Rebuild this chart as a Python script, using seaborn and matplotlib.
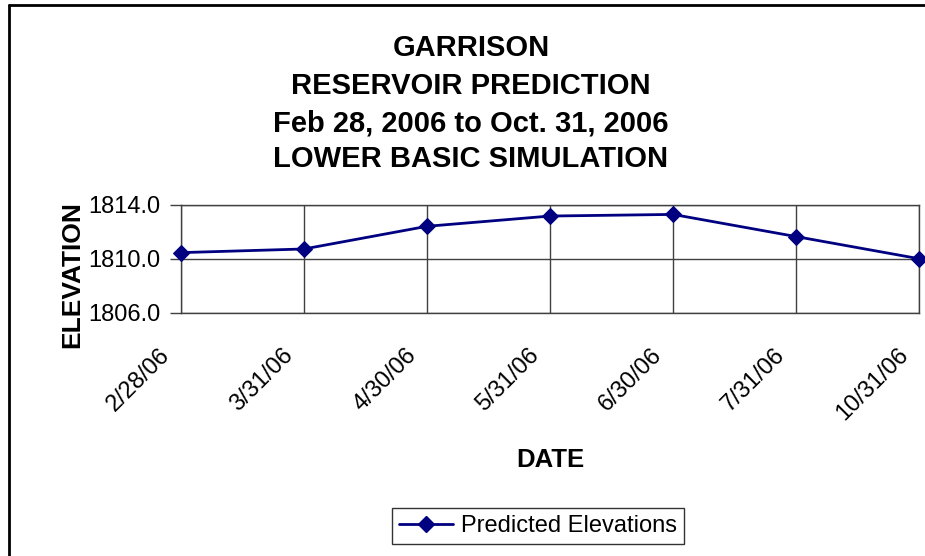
import pandas as pd
import matplotlib
matplotlib.use("Agg")
import matplotlib.pyplot as plt
import matplotlib.transforms as mtransforms
from matplotlib.lines import Line2D
import seaborn as sns

# ------------------------------
# Data
# ------------------------------
dates = ["2/28/06", "3/31/06", "4/30/06", "5/31/06", "6/30/06", "7/31/06", "10/31/06"]
elevations = [1810.45, 1810.72, 1812.40, 1813.16, 1813.28, 1811.64, 1810.00]
y_ticks = [1806.0, 1810.0, 1814.0]
title_lines = ["GARRISON", "RESERVOIR PREDICTION",
               "Feb 28, 2006 to Oct. 31, 2006", "LOWER BASIC SIMULATION"]

df = pd.DataFrame({"date": dates, "elevation": elevations})
df["pos"] = range(len(df))

sns.set_style("white")
plt.rcParams["font.family"] = ["Liberation Sans", "DejaVu Sans"]
plt.rcParams["text.color"] = "black"
plt.rcParams["xtick.color"] = "black"
plt.rcParams["ytick.color"] = "black"

W, H = 925, 556
fig = plt.figure(figsize=(W / 100, H / 100), dpi=100)

# axes placed in pixel terms of the reference
x0, x1, y_top, y_bot = 181, 919, 204.7, 312.7
ax = fig.add_axes([x0 / W, 1 - y_bot / H, (x1 - x0) / W, (y_bot - y_top) / H])

navy = "#000080"
sns.lineplot(data=df, x="pos", y="elevation", ax=ax, color=navy, linewidth=2,
             marker="D", markersize=8, markeredgecolor=navy, legend=False,
             clip_on=False, zorder=5)

ax.set_xlim(0, len(dates) - 1)
ax.set_ylim(1806, 1814)
ax.set_yticks(y_ticks)
ax.set_yticklabels([f"{v:.1f}" for v in y_ticks], fontsize=17)
ax.set_xticks(df["pos"])
ax.set_xticklabels(dates, fontsize=17, rotation=45, ha="right",
                   rotation_mode="anchor", va="top")
ax.tick_params(axis="y", length=8, width=1, color="#404040", pad=7, left=True)
ax.tick_params(axis="x", length=0, pad=0)
offset = mtransforms.ScaledTranslation(-22 / 100, -31 / 100, fig.dpi_scale_trans)
for lab in ax.get_xticklabels():
    lab.set_transform(lab.get_transform() + offset)

ax.grid(True, color="#404040", linewidth=1)
for s in ax.spines.values():
    s.set_visible(True)
    s.set_color("#404040")
    s.set_linewidth(1)
ax.set_xlabel("")
ax.set_ylabel("")

# axis titles
fig.text(72 / W, 1 - 275 / H, "ELEVATION", rotation=90, fontsize=19,
         fontweight="bold", ha="center", va="center")
fig.text(550 / W, 1 - 460 / H, "DATE", fontsize=18.5, fontweight="bold",
         ha="center", va="center")

# chart title
for line, yc in zip(title_lines, [48, 85.5, 123, 159]):
    fig.text(471 / W, 1 - yc / H, line, fontsize=21, fontweight="bold",
             ha="center", va="center")

# legend
handle = Line2D([], [], color=navy, linewidth=2, marker="D", markersize=8)
leg = fig.legend([handle], ["Predicted Elevations"], loc="center",
                 bbox_to_anchor=(538 / W, 1 - 526 / H), fontsize=17,
                 frameon=True, fancybox=False, edgecolor="black",
                 handlelength=2.3, handletextpad=0.35, borderpad=0.3,
                 borderaxespad=0)
leg.get_frame().set_linewidth(1)

# outer chart border (left and top visible in the reference)
fig.add_artist(Line2D([8.5 / W, 8.5 / W], [0, 1 - 4.5 / H], color="black",
                      linewidth=2, transform=fig.transFigure))
fig.add_artist(Line2D([8.5 / W, 1], [1 - 4.5 / H, 1 - 4.5 / H], color="black",
                      linewidth=2, transform=fig.transFigure))

fig.savefig("out.png", dpi=100)
